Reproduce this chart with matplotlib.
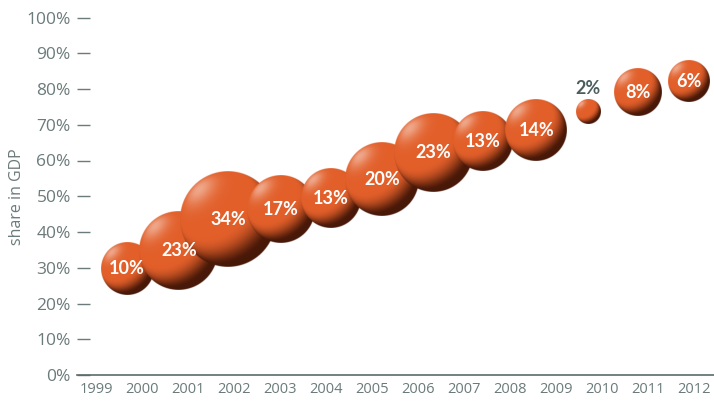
import numpy as np
import matplotlib
matplotlib.use('Agg')
import matplotlib.pyplot as plt

# data
years = list(range(1999, 2013))
bubble_x = [1999.67, 2000.80, 2001.87, 2003.02, 2004.11, 2005.22,
            2006.33, 2007.41, 2008.57, 2009.70, 2010.78, 2011.89]
share_gdp = [29.8, 34.7, 43.5, 46.3, 49.4, 54.8, 62.2, 65.3, 68.4, 73.7, 79.0, 82.1]
growth = [10, 23, 34, 17, 13, 20, 23, 13, 14, 2, 8, 6]
yticks = list(range(0, 101, 10))

GREY = '#6b7a7a'
BASE = np.array([226, 95, 42]) / 255.0
DARK = np.array([72, 24, 8]) / 255.0
LABEL_FONT = 'Lato'


def sphere(n=240):
    u = np.linspace(-1, 1, n)
    U, V = np.meshgrid(u, u)
    r2 = U ** 2 + V ** 2
    r = np.sqrt(r2)
    Z = np.sqrt(np.clip(1 - r2, 0, 1))

    L = np.array([-0.45, 0.55, 0.70])
    L = L / np.linalg.norm(L)
    d = U * L[0] + V * L[1] + Z * L[2]
    t = np.clip((d + 0.25) / 0.8, 0, 1)
    t = t * t * (3 - 2 * t)
    rgb = DARK + (BASE - DARK) * t[..., None]

    H = np.array([-0.6, 0.62, 0.5])
    H = H / np.linalg.norm(H)
    s = np.clip(U * H[0] + V * H[1] + Z * H[2], 0, 1) ** 14 * 0.45
    rgb = rgb + (1 - rgb) * s[..., None]

    alpha = np.clip((1 - r) * n / 2 + 0.5, 0, 1)
    return np.dstack([np.clip(rgb, 0, 1), alpha])


def main():
    fig = plt.figure(figsize=(7.14, 4.01), dpi=100)
    ax = fig.add_axes([77 / 714, 26 / 401, 637 / 714, 357.5 / 401])
    ax.set_xlim(1998.587, 2012.435)
    ax.set_ylim(0, 100)

    bb = ax.get_window_extent()
    px_x = bb.width / (ax.get_xlim()[1] - ax.get_xlim()[0])
    px_y = bb.height / (ax.get_ylim()[1] - ax.get_ylim()[0])

    img = sphere()
    for i, (x, y, g) in enumerate(zip(bubble_x, share_gdp, growth)):
        r_px = 8.0 * np.sqrt(g) + 1
        rx, ry = r_px / px_x, r_px / px_y
        ax.imshow(img, extent=[x - rx, x + rx, y - ry, y + ry], origin='lower',
                  aspect='auto', interpolation='bilinear', zorder=2 + i)
        if g >= 5:
            ax.text(x, y, '{}%'.format(g), ha='center', va='center', color='white',
                    fontsize=13, fontweight='bold', family=LABEL_FONT, zorder=50)
        else:
            ax.annotate('{}%'.format(g), (x, y), xytext=(0, (r_px + 2) * 0.72),
                        textcoords='offset points', ha='center', va='bottom',
                        color='#4d5e5e', fontsize=13, fontweight='bold',
                        family=LABEL_FONT, zorder=50)

    ax.set_xlim(1998.587, 2012.435)
    ax.set_ylim(0, 100)

    for side in ['top', 'right', 'left']:
        ax.spines[side].set_visible(False)
    ax.spines['bottom'].set_color('#5c6a6a')
    ax.spines['bottom'].set_linewidth(1.2)

    ax.set_yticks(yticks)
    ax.set_yticklabels(['{}%'.format(v) for v in yticks])
    ax.tick_params(axis='y', direction='in', length=9.5, width=1.0, color=GREY,
                   pad=4.5, labelsize=12.5, labelcolor=GREY)
    ax.set_xticks(years)
    ax.set_xticklabels([str(v) for v in years])
    ax.tick_params(axis='x', length=0, pad=5, labelsize=10.5, labelcolor=GREY)
    for lab in ax.get_xticklabels() + ax.get_yticklabels():
        lab.set_family('Open Sans')

    ax.set_ylabel('share in GDP', fontsize=11.5, color=GREY, family='Open Sans')
    ax.yaxis.set_label_coords(-0.082, 0.5)

    fig.savefig('out.png', dpi=100)


if __name__ == '__main__':
    main()
